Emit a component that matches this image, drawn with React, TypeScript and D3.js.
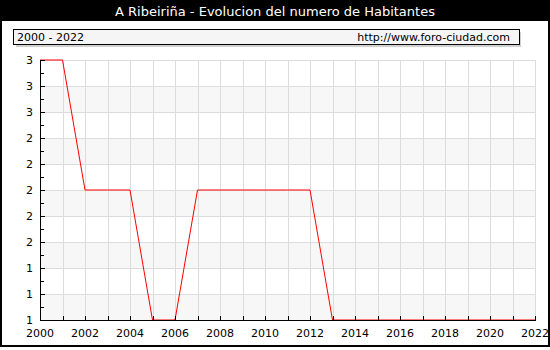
import React from "react";
import * as d3 from "d3";

const years = [2000, 2001, 2002, 2003, 2004, 2005, 2006, 2007, 2008, 2009, 2010, 2011, 2012, 2013, 2014, 2015, 2016, 2017, 2018, 2019, 2020, 2021, 2022];
const population = [3, 3, 2, 2, 2, 1, 1, 2, 2, 2, 2, 2, 2, 1, 1, 1, 1, 1, 1, 1, 1, 1, 1];
const yTickValues = [3, 2.8, 2.6, 2.4, 2.2, 2, 1.8, 1.6, 1.4, 1.2, 1];
const yTickLabels = ["3", "3", "3", "2", "2", "2", "2", "2", "1", "1", "1"];
const xTickLabels = ["2000", "2002", "2004", "2006", "2008", "2010", "2012", "2014", "2016", "2018", "2020", "2022"];
const title = "A Ribeiriña - Evolucion del numero de Habitantes";
const periodLabel = "2000 - 2022";
const siteLabel = "http://www.foro-ciudad.com";

const W = 550, H = 350;
const left = 40, right = 535, top = 60, bottom = 320;
const font = "DejaVu Sans, sans-serif";

export default function App() {
  React.useEffect(() => {
    document.body.style.margin = "0";
  }, []);
  const x = d3.scaleLinear().domain([2000, 2022]).range([left, right]);
  const y = d3.scaleLinear().domain([1, 3]).range([bottom, top]);
  const line = d3.line<number>().x((_, i) => x(years[i])).y((d) => y(d));
  const bands = yTickValues.slice(0, -1).map((v, i) => ({ v, next: yTickValues[i + 1], i }));
  const minor = yTickValues.slice(0, -1).map((v, i) => (v + yTickValues[i + 1]) / 2);

  return (
    <svg width={W} height={H} style={{ display: "block" }} shapeRendering="crispEdges">
      <rect x={0} y={0} width={W} height={H} fill="#fff" />
      <rect x={0} y={0} width={W} height={21} fill="#000" />
      <text x={W / 2} y={16} fill="#fff" fontFamily={font} fontSize={13} textAnchor="middle">{title}</text>
      <rect x={1} y={1} width={548} height={345} fill="none" stroke="#000" strokeWidth={2} />

      <rect x={16} y={32} width={505} height={15} fill="#d0d0d0" />
      <rect x={13.5} y={29.5} width={506} height={15} fill="#f5f5f5" stroke="#000" />
      <text x={17} y={41} fontFamily={font} fontSize={11} fill="#000">{periodLabel}</text>
      <text x={510} y={41} fontFamily={font} fontSize={11} fill="#000" textAnchor="end">{siteLabel}</text>

      {bands.map((b) => (
        b.i % 2 === 1 ? (
          <rect key={b.i} x={left} y={y(b.v)} width={right - left} height={y(b.next) - y(b.v)} fill="#f7f7f7" />
        ) : null
      ))}
      {years.map((yr) => (
        <line key={"vg" + yr} x1={x(yr) + 0.5} x2={x(yr) + 0.5} y1={top} y2={bottom} stroke="#dcdcdc" />
      ))}
      {yTickValues.map((v) => (
        <line key={"hg" + v} x1={left} x2={right} y1={Math.round(y(v)) + 0.5} y2={Math.round(y(v)) + 0.5} stroke="#dcdcdc" />
      ))}

      <path d={line(population) || ""} fill="none" stroke="#ff0000" strokeWidth={1} shapeRendering="auto" />

      <line x1={left + 0.5} x2={left + 0.5} y1={top} y2={bottom + 1} stroke="#000" />
      <line x1={left} x2={right + 1} y1={bottom + 0.5} y2={bottom + 0.5} stroke="#000" />
      {yTickValues.map((v) => (
        <line key={"yt" + v} x1={left} x2={left + 5} y1={Math.round(y(v)) + 0.5} y2={Math.round(y(v)) + 0.5} stroke="#000" />
      ))}
      {minor.map((v) => (
        <line key={"ym" + v} x1={left} x2={left + 4} y1={Math.round(y(v)) + 0.5} y2={Math.round(y(v)) + 0.5} stroke="#000" />
      ))}
      {years.map((yr) => (
        <line key={"xt" + yr} x1={x(yr) + 0.5} x2={x(yr) + 0.5} y1={bottom - 4} y2={bottom} stroke="#000" />
      ))}
      {yTickValues.map((v, i) => (
        <text key={"yl" + i} x={33} y={y(v) + 4} fontFamily={font} fontSize={11} textAnchor="end" fill="#000">{yTickLabels[i]}</text>
      ))}
      {xTickLabels.map((lab) => (
        <text key={"xl" + lab} x={x(+lab)} y={337} fontFamily={font} fontSize={11} textAnchor="middle" fill="#000">{lab}</text>
      ))}
    </svg>
  );
}
